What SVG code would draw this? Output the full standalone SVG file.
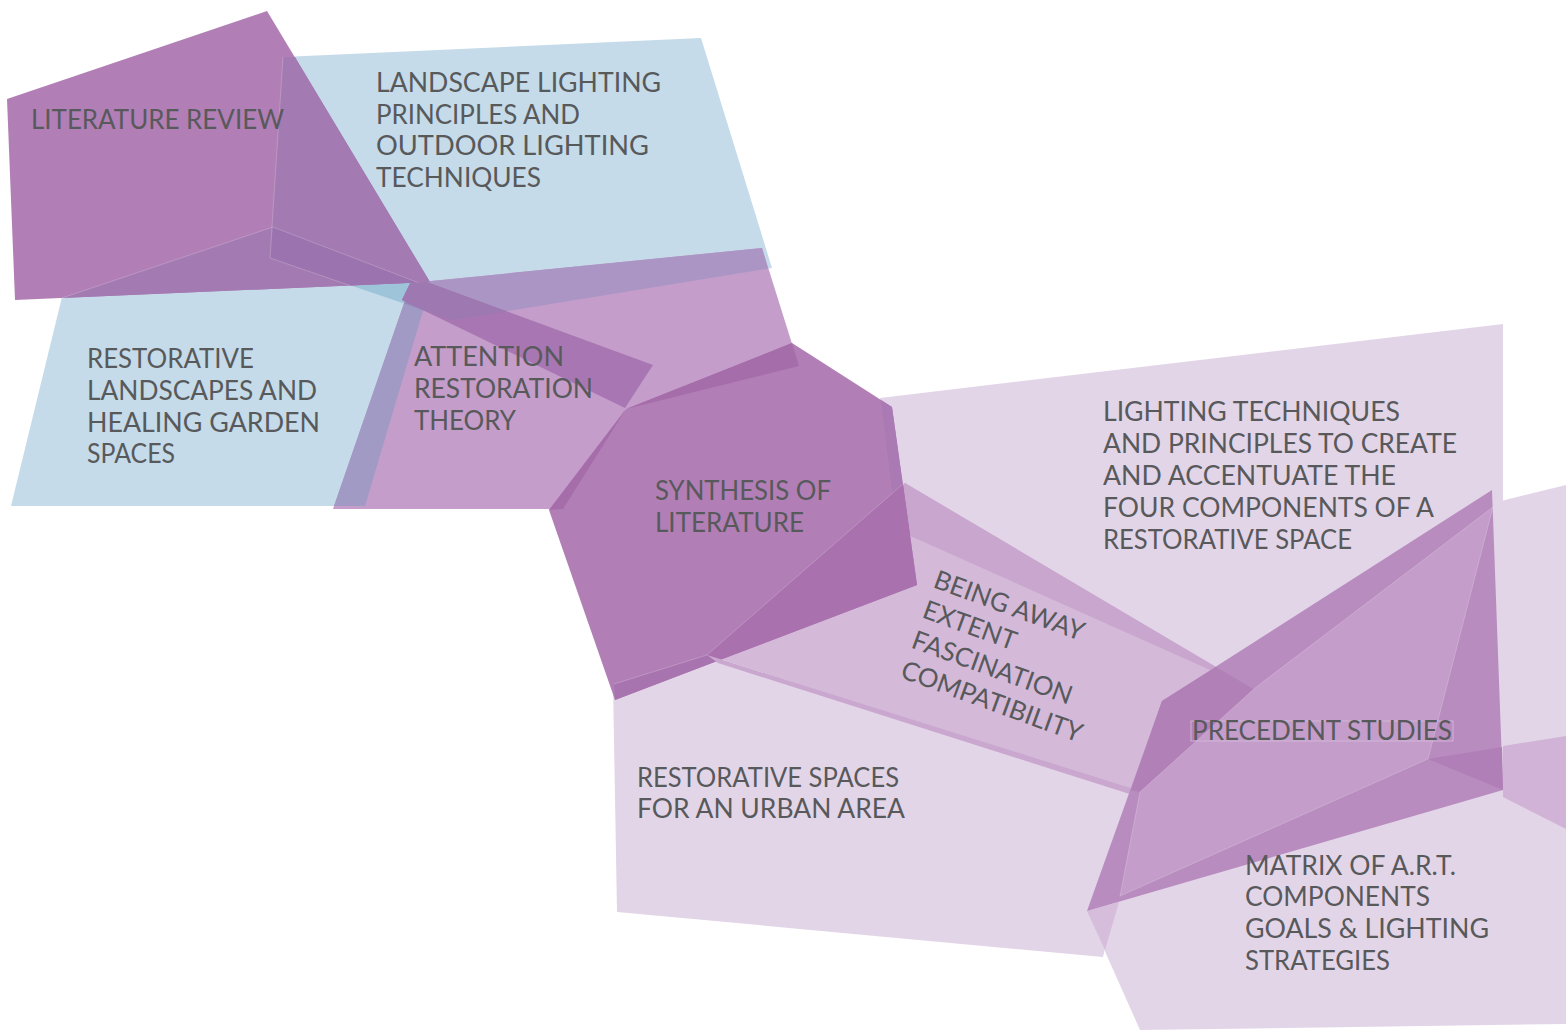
<svg xmlns="http://www.w3.org/2000/svg" width="1566" height="1030" viewBox="0 0 1566 1030">
<style>
.blue{fill:#c5dbe9}
.lr{fill:#b17fb6}
.art{fill:#c49dca}
.lav{fill:#e3d5e8}
.band{fill:#d4b9d9}
.hex{fill:#b17fb6}
.outer{fill:#b88cbf}
.inner{fill:#c49dca}
.seam{fill:none;stroke:#ffffff;stroke-opacity:0.25;stroke-width:0.8}
.t{font-family:Lato,"Open Sans","Liberation Sans",sans-serif;font-size:26px;fill:#58595b}
</style>
<rect width="1566" height="1030" fill="#ffffff"/>
<g id="shapes">
  <g id="shape-landscape-lighting"><polygon class="blue" points="283,57 701,38 772,268 452,320 270,258"/></g>
  <g id="shape-restorative-landscapes"><polygon class="blue" points="11,506 62,297 273,227 430,287 365,506"/></g>
  <g id="shape-attention-restoration"><polygon class="art" points="411,283 762,248 799,366 626,409 563,509 333,509"/></g>
  <g id="shape-overlaps-left">
    <polygon fill="#ab95c4" points="411,283 762,248 768,268.6 452,320 404,303.5"/>
    <polygon fill="#a09ac4" points="411,283 421,283 430,287 365,506 334,506"/>
    <polygon fill="#958abb" points="411,283 421,283 430,287 423,310 404,303.5"/>
    <polygon fill="#9ec4da" points="273,227 412,280 404,303.5 270,258"/>
    <polygon fill="#a877b3" points="413,277 653,365 625,408 402,300"/>
    <polygon fill="#9d78b1" points="413,277 507,311.5 452,320 423,310 402,300"/>
  </g>
  <g id="shape-literature-review">
    <polygon class="lr" points="7,99 267,11 430,282 15,300"/>
    <polygon fill="#a37ab2" points="283,57 295,57 430,282 350,285.5 270,258"/>
    <polygon fill="#a37ab2" points="62,298 273,227 270,258 350,285.5"/>
    <polygon fill="#9b74af" points="273,227 418,282.5 350,285.5 270,258"/>
    <polyline class="seam" points="62,298 273,227 418,282.5"/>
    <polyline class="seam" points="283,57 270,258 350,285.5"/>
  </g>
  <g id="shape-lighting-techniques"><polygon class="lav" points="880,398 1503,324 1503,700 1255,690 897,530"/></g>
  <g id="shape-urban"><polygon class="lav" points="613,684 707,655 1140,795 1103,957 617,912"/></g>
  <g id="shape-matrix"><polygon class="lav" points="1493,503 1566,485 1566,1024 1140,1030 1087,911 1427,760"/></g>
  <polygon fill="#d6bddb" points="1087,911 1119,902 1105,950"/>
  <g id="shape-being-away">
    <polygon class="band" points="905,483 1255,690 1140,792 707,655"/>
    <polygon fill="#c8a6ce" points="892,494 905,483 1255,690 897,530"/>
  </g>
  <g id="shape-synthesis">
    <polygon class="hex" points="549,510 626,409 792,343 892,407 917,585 615,700"/>
    <polygon fill="#a66dab" points="626,409 792,343 799,366"/>
    <polygon fill="#a66dab" points="549,510 626,409 563,509"/>
    <polygon fill="#a97ab3" points="881,400 892,407 910,536 897,530"/>
    <polygon fill="#a971ae" points="707,655 903,484 917,585 721,659.5"/>
    <polygon fill="#a874b0" points="614,684 707,655 721,659.5 615,700"/>
    <polyline class="seam" points="614,684 707,655 903,484"/>
  </g>
  <polygon fill="#c9a7cf" points="707,655 1140,791 1139,797 718,663"/>
  <g id="shape-precedent">
    <polygon class="outer" points="1162,701 1492,490 1503,790 1087,911"/>
    <polygon fill="#b080b7" points="1162,701 1216,667 1255,690 1140,792 1131,790"/>
    <polygon class="inner" points="1140,792 1255,688 1493,507 1428,759 1120,896"/>
    <polygon fill="#b17fb8" points="1428,759 1502,747 1503,790"/>
    <polygon fill="#d0b3d6" points="1503,746 1566,736 1566,829 1503,797"/>
    <polygon class="seam" points="1140,792 1255,688 1493,507 1428,759 1120,896"/>
    <rect x="1191" y="721" width="262" height="20" fill="none" stroke="#d6bedb" stroke-width="0.8"/>
  </g>
</g>
<g id="node-literature-review"><text class="t" x="31" y="129" textLength="253" lengthAdjust="spacingAndGlyphs">LITERATURE REVIEW</text></g>
<g id="node-landscape-lighting">
  <text class="t" x="376" y="92" textLength="285" lengthAdjust="spacingAndGlyphs">LANDSCAPE LIGHTING</text>
  <text class="t" x="376" y="123.5" textLength="204" lengthAdjust="spacingAndGlyphs">PRINCIPLES AND</text>
  <text class="t" x="376" y="155" textLength="273" lengthAdjust="spacingAndGlyphs">OUTDOOR LIGHTING</text>
  <text class="t" x="376" y="186.5" textLength="165" lengthAdjust="spacingAndGlyphs">TECHNIQUES</text>
</g>
<g id="node-restorative-landscapes">
  <text class="t" x="87" y="368" textLength="167" lengthAdjust="spacingAndGlyphs">RESTORATIVE</text>
  <text class="t" x="87" y="400" textLength="230" lengthAdjust="spacingAndGlyphs">LANDSCAPES AND</text>
  <text class="t" x="87" y="432" textLength="233" lengthAdjust="spacingAndGlyphs">HEALING GARDEN</text>
  <text class="t" x="87" y="463" textLength="88" lengthAdjust="spacingAndGlyphs">SPACES</text>
</g>
<g id="node-attention-restoration">
  <text class="t" x="414" y="366" textLength="150" lengthAdjust="spacingAndGlyphs">ATTENTION</text>
  <text class="t" x="414" y="398" textLength="179" lengthAdjust="spacingAndGlyphs">RESTORATION</text>
  <text class="t" x="414" y="430" textLength="102" lengthAdjust="spacingAndGlyphs">THEORY</text>
</g>
<g id="node-synthesis">
  <text class="t" x="655" y="500" textLength="176" lengthAdjust="spacingAndGlyphs">SYNTHESIS OF</text>
  <text class="t" x="655" y="532" textLength="149" lengthAdjust="spacingAndGlyphs">LITERATURE</text>
</g>
<g id="node-lighting-techniques">
  <text class="t" x="1103" y="421" textLength="297" lengthAdjust="spacingAndGlyphs">LIGHTING TECHNIQUES</text>
  <text class="t" x="1103" y="453" textLength="354" lengthAdjust="spacingAndGlyphs">AND PRINCIPLES TO CREATE</text>
  <text class="t" x="1103" y="485" textLength="293" lengthAdjust="spacingAndGlyphs">AND ACCENTUATE THE</text>
  <text class="t" x="1103" y="517" textLength="331" lengthAdjust="spacingAndGlyphs">FOUR COMPONENTS OF A</text>
  <text class="t" x="1103" y="549" textLength="249" lengthAdjust="spacingAndGlyphs">RESTORATIVE SPACE</text>
</g>
<g id="node-being-away" transform="translate(932,587) rotate(20)">
  <text class="t" x="0" y="0">BEING AWAY</text>
  <text class="t" x="0" y="32">EXTENT</text>
  <text class="t" x="0" y="64">FASCINATION</text>
  <text class="t" x="0" y="96">COMPATIBILITY</text>
</g>
<g id="node-precedent"><text class="t" x="1192" y="740" textLength="260" lengthAdjust="spacingAndGlyphs">PRECEDENT STUDIES</text></g>
<g id="node-urban">
  <text class="t" x="637" y="786.5" textLength="262" lengthAdjust="spacingAndGlyphs">RESTORATIVE SPACES</text>
  <text class="t" x="637" y="818" textLength="268" lengthAdjust="spacingAndGlyphs">FOR AN URBAN AREA</text>
</g>
<g id="node-matrix">
  <text class="t" x="1245" y="875" textLength="211" lengthAdjust="spacingAndGlyphs">MATRIX OF A.R.T.</text>
  <text class="t" x="1245" y="906" textLength="185" lengthAdjust="spacingAndGlyphs">COMPONENTS</text>
  <text class="t" x="1245" y="938" textLength="244" lengthAdjust="spacingAndGlyphs">GOALS &amp; LIGHTING</text>
  <text class="t" x="1245" y="970" textLength="145" lengthAdjust="spacingAndGlyphs">STRATEGIES</text>
</g>
</svg>
